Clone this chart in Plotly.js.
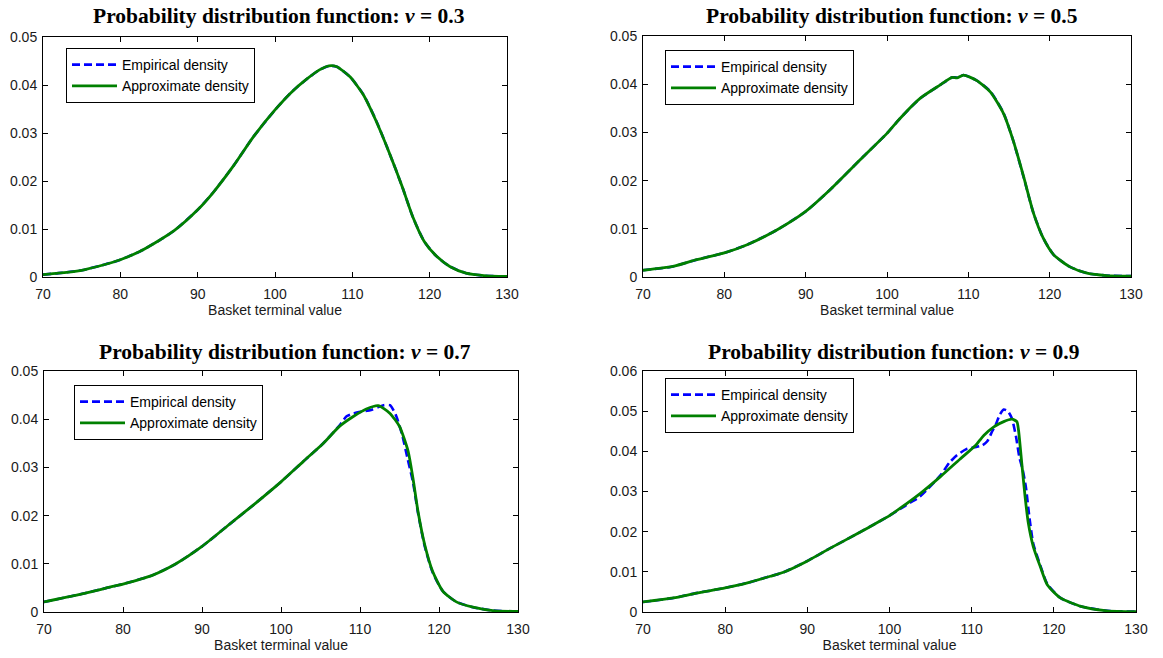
<!DOCTYPE html>
<html>
<head>
<meta charset="utf-8">
<script src="https://cdn.plot.ly/plotly-3.0.1.min.js"></script>
<style>
  html, body { margin: 0; padding: 0; background: #fff; }
  #chart { width: 1163px; height: 658px; }
</style>
</head>
<body>
<div id="chart"></div>
<script>
// ---------- data ----------
const X_TICKS = [70, 80, 90, 100, 110, 120, 130];
const X_TICK_TEXT = ['70', '80', '90', '100', '110', '120', '130'];
const Y_TICKS_5 = [0, 0.01, 0.02, 0.03, 0.04, 0.05];
const Y_TICK_TEXT_5 = ['0', '0.01', '0.02', '0.03', '0.04', '0.05'];
const Y_TICKS_6 = [0, 0.01, 0.02, 0.03, 0.04, 0.05, 0.06];
const Y_TICK_TEXT_6 = ['0', '0.01', '0.02', '0.03', '0.04', '0.05', '0.06'];

const NU = ['0.3', '0.5', '0.7', '0.9'];
const SERIES_NAMES = ['Empirical density', 'Approximate density'];
const X_LABEL = 'Basket terminal value';
const TITLE_PREFIX = 'Probability distribution function: ';

// nu = 0.3
const x03 = [70, 72, 75, 78, 80, 82.5, 85, 87, 90, 92, 94.6, 97.2, 100, 102, 104, 105.8, 107, 108, 109.7, 111.4, 113.1, 114.8, 116.5, 117.8, 119.3, 120.9, 122.6, 124.7, 127, 130];
const approx03 = [0.0005, 0.0008, 0.0014, 0.0026, 0.0036, 0.0053, 0.0076, 0.0097, 0.0140, 0.0176, 0.0231, 0.0292, 0.0348, 0.0383, 0.0411, 0.0432, 0.0440, 0.0438, 0.0417, 0.0380, 0.0324, 0.0258, 0.0186, 0.0126, 0.0074, 0.0043, 0.0022, 0.0008, 0.0003, 0.0001];
const emp03 = [0.0005, 0.0008, 0.0014, 0.0026, 0.0036, 0.0053, 0.0076, 0.0097, 0.0140, 0.0176, 0.0231, 0.0292, 0.0348, 0.0383, 0.0411, 0.0432, 0.0440, 0.0438, 0.0417, 0.0381, 0.0325, 0.0258, 0.0186, 0.0126, 0.0074, 0.0043, 0.0022, 0.0008, 0.0003, 0.0001];

// nu = 0.5
const x05 = [70, 73.7, 76.6, 80, 82.8, 86.5, 90, 93, 97.1, 100, 101.6, 104.1, 106.5, 108, 108.6, 109.4, 111, 112.7, 114.3, 115.5, 116.8, 118, 119.2, 120.5, 122.5, 124.6, 127, 130];
const approx05 = [0.0014, 0.0022, 0.0036, 0.0050, 0.0067, 0.0098, 0.0136, 0.0181, 0.0250, 0.0298, 0.0329, 0.0371, 0.0398, 0.0414, 0.0413, 0.0419, 0.0408, 0.0384, 0.0340, 0.0284, 0.0208, 0.0133, 0.0081, 0.0046, 0.0021, 0.0008, 0.0003, 0.0002];
const emp05 = [0.0014, 0.0022, 0.0036, 0.0050, 0.0067, 0.0098, 0.0136, 0.0181, 0.0250, 0.0298, 0.0329, 0.0371, 0.0398, 0.0414, 0.0414, 0.0419, 0.0408, 0.0385, 0.0341, 0.0284, 0.0207, 0.0133, 0.0081, 0.0046, 0.0021, 0.0008, 0.0003, 0.0002];

// nu = 0.7
const x07 = [70, 74.4, 78.7, 80, 83.7, 86.7, 90, 93.4, 96.8, 100, 102.8, 105.3, 107.4, 109.1, 110.8, 112.3, 113.8, 115, 116.1, 116.7, 117.35, 118.2, 119.2, 120.5, 122.2, 124.3, 126.8, 130];
const approx07 = [0.0021, 0.0036, 0.0053, 0.0058, 0.0076, 0.0100, 0.0136, 0.0181, 0.0226, 0.0270, 0.0312, 0.0349, 0.0385, 0.0405, 0.0421, 0.0428, 0.0412, 0.0385, 0.0333, 0.0278, 0.0208, 0.0139, 0.0084, 0.0043, 0.0021, 0.0010, 0.0003, 0.0001];
const x07e = [70, 74.4, 78.7, 80, 83.7, 86.7, 90, 93.4, 96.8, 100, 102.8, 105.3, 107.4, 108.3, 109.2, 110.3, 111.4, 112.3, 113, 113.8, 114.5, 115.3, 116, 116.7, 117.35, 118.2, 119.2, 120.5, 122.2, 124.3, 126.8, 130];
const emp07 = [0.0021, 0.0036, 0.0053, 0.0058, 0.0076, 0.0100, 0.0136, 0.0181, 0.0226, 0.0270, 0.0312, 0.0349, 0.0387, 0.0406, 0.0412, 0.0416, 0.0419, 0.0425, 0.0429, 0.0429, 0.0410, 0.0370, 0.0320, 0.0270, 0.0205, 0.0136, 0.0082, 0.0043, 0.0021, 0.0010, 0.0003, 0.0001];

// nu = 0.9
const x09 = [70, 73.7, 76.5, 80, 82.6, 85.5, 87.1, 89.9, 92.8, 96, 98.9, 100, 101.35, 103.8, 106.2, 108.6, 110.5, 111, 111.5, 112.7, 113.9, 114.9, 115.5, 115.7, 116.1, 116.5, 116.9, 117.5, 118.35, 119.2, 120.8, 123.3, 126.5, 130];
const approx09 = [0.0025, 0.0035, 0.0047, 0.0060, 0.0072, 0.0089, 0.0099, 0.0126, 0.0159, 0.0194, 0.0227, 0.0240, 0.0259, 0.0296, 0.0337, 0.0381, 0.0415, 0.0428, 0.0440, 0.0461, 0.0474, 0.0480, 0.0474, 0.0453, 0.0370, 0.0287, 0.0221, 0.0163, 0.0113, 0.0068, 0.0035, 0.0014, 0.0003, 0.0001];
const x09e = [70, 73.7, 76.5, 80, 82.6, 85.5, 87.1, 89.9, 92.8, 96, 98.9, 100, 101.35, 102.5, 103.5, 104.5, 106.2, 107.3, 108.2, 109.3, 110.3, 111.3, 111.9, 112.5, 112.9, 113.4, 113.9, 114.4, 114.9, 115.4, 115.8, 116.2, 116.6, 117.0, 117.5, 118.35, 119.2, 120.8, 123.3, 126.5, 130];
const emp09 = [0.0025, 0.0035, 0.0047, 0.0060, 0.0072, 0.0089, 0.0099, 0.0126, 0.0159, 0.0194, 0.0227, 0.0240, 0.0257, 0.0272, 0.0284, 0.0303, 0.0340, 0.0372, 0.0390, 0.0405, 0.0410, 0.0415, 0.0425, 0.0450, 0.0465, 0.0490, 0.0504, 0.0500, 0.0482, 0.0436, 0.0386, 0.0355, 0.0311, 0.0240, 0.0170, 0.0116, 0.0070, 0.0035, 0.0014, 0.0003, 0.0001];

// ---------- styling ----------
const BLUE = '#0000ff';
const GREEN = '#008000';
const W = 1163, H = 658;
const px = v => v / W;
const py = v => 1 - v / H;

// plot frames in pixels: [left, right, top, bottom]
const frames = [
  [43, 507, 37, 277],
  [643, 1131, 36, 277],
  [44, 518, 371, 612],
  [643, 1136, 371, 612]
];
const legendPos = [[66, 48], [665, 50], [74, 385], [665, 378]];
const titleCenters = [[279, 16], [891, 16], [285, 352], [893, 352]];

const panels = [
  {x: x03, emp: emp03, xe: x03, approx: approx03, yt: Y_TICKS_5, ytt: Y_TICK_TEXT_5, ymax: 0.05},
  {x: x05, emp: emp05, xe: x05, approx: approx05, yt: Y_TICKS_5, ytt: Y_TICK_TEXT_5, ymax: 0.05},
  {x: x07, emp: emp07, xe: x07e, approx: approx07, yt: Y_TICKS_5, ytt: Y_TICK_TEXT_5, ymax: 0.05},
  {x: x09, emp: emp09, xe: x09e, approx: approx09, yt: Y_TICKS_6, ytt: Y_TICK_TEXT_6, ymax: 0.06}
];

const tickFont = {family: 'Liberation Sans, Arial, sans-serif', size: 14, color: '#1a1a1a'};
const traces = [];
const layout = {
  width: W, height: H,
  margin: {l: 0, r: 0, t: 0, b: 0},
  paper_bgcolor: '#ffffff',
  plot_bgcolor: '#ffffff',
  showlegend: true,
  annotations: []
};

panels.forEach((p, i) => {
  const n = i + 1;
  const xa = 'x' + (n === 1 ? '' : n);
  const ya = 'y' + (n === 1 ? '' : n);
  const lg = 'legend' + (n === 1 ? '' : n);
  traces.push({
    type: 'scatter', mode: 'lines', x: p.xe, y: p.emp, name: SERIES_NAMES[0],
    xaxis: xa, yaxis: ya, legend: lg,
    line: {color: BLUE, width: 2.6, dash: '8px,4px', shape: 'spline', smoothing: 0.6}
  });
  traces.push({
    type: 'scatter', mode: 'lines', x: p.x, y: p.approx, name: SERIES_NAMES[1],
    xaxis: xa, yaxis: ya, legend: lg,
    line: {color: GREEN, width: 2.8, shape: 'spline', smoothing: 0.6}
  });
  const f = frames[i];
  const axCommon = {
    showgrid: false, zeroline: false, showline: true, linecolor: '#000', linewidth: 1,
    mirror: 'ticks', ticks: 'inside', ticklen: 5, tickwidth: 1, tickcolor: '#000',
    tickfont: tickFont, fixedrange: true
  };
  layout['xaxis' + (n === 1 ? '' : n)] = Object.assign({}, axCommon, {
    domain: [px(f[0]), px(f[1])], anchor: ya, range: [70, 130],
    tickmode: 'array', tickvals: X_TICKS, ticktext: X_TICK_TEXT,
    ticklabelstandoff: 4,
    title: {text: X_LABEL, font: {family: 'Liberation Sans, Arial, sans-serif', size: 14, color: '#1a1a1a'}, standoff: 4}
  });
  layout['yaxis' + (n === 1 ? '' : n)] = Object.assign({}, axCommon, {
    domain: [py(f[3]), py(f[2])], anchor: xa, range: [0, p.ymax],
    tickmode: 'array', tickvals: p.yt, ticktext: p.ytt,
    ticklabelstandoff: 2
  });
  const lp = legendPos[i];
  layout[lg] = {
    x: px(lp[0]), y: py(lp[1]), xanchor: 'left', yanchor: 'top',
    xref: 'paper', yref: 'paper',
    bgcolor: '#ffffff', bordercolor: '#000', borderwidth: 1,
    font: {family: 'Liberation Sans, Arial, sans-serif', size: 14, color: '#000'},
    itemwidth: 45, tracegroupgap: 0, traceorder: 'normal'
  };
  const tc = titleCenters[i];
  layout.annotations.push({
    xref: 'paper', yref: 'paper', x: px(tc[0]), y: py(tc[1]),
    xanchor: 'center', yanchor: 'middle', showarrow: false,
    text: '<b>' + TITLE_PREFIX + '<i>ν</i> = ' + NU[i] + '</b>',
    font: {family: 'Liberation Serif, Times New Roman, serif', size: 21.5, color: '#000'}
  });
});

Plotly.newPlot('chart', traces, layout, {displayModeBar: false, staticPlot: true});
</script>
</body>
</html>
